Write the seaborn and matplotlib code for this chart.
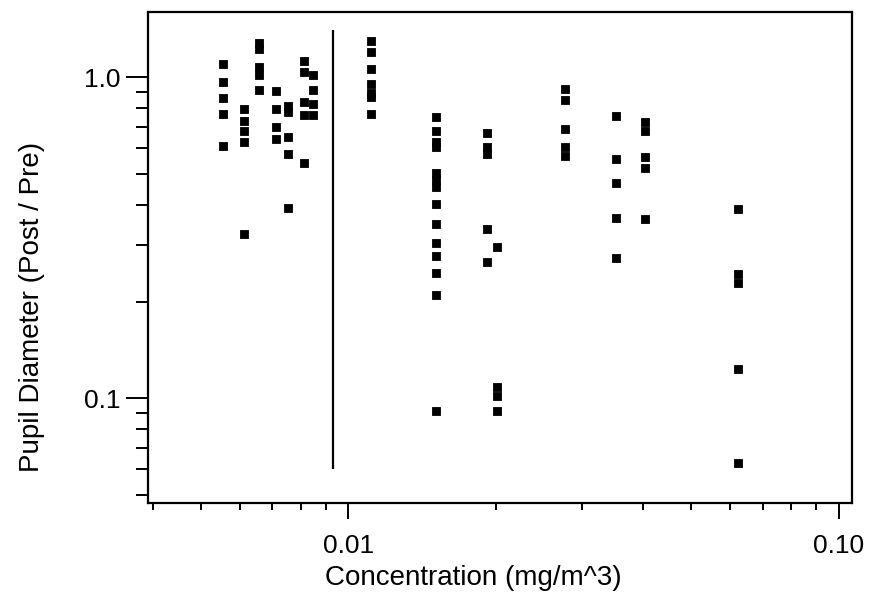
import matplotlib
matplotlib.use("Agg")
import matplotlib.pyplot as plt
import matplotlib.ticker as mtick
import pandas as pd
import seaborn as sns

# concentration groups (mg/m^3) and pupil diameter ratios
conc = (
    [0.00555] * 5
    + [0.00613] * 5
    + [0.00658] * 5
    + [0.00712] * 4
    + [0.00754] * 5
    + [0.00813] * 5
    + [0.00848] * 4
    + [0.01114] * 7
    + [0.01507] * 14
    + [0.01914] * 5
    + [0.0201] * 4
    + [0.02767] * 5
    + [0.03515] * 5
    + [0.0403] * 5
    + [0.0624] * 5
)
ratio = [
    1.098, 0.965, 0.860, 0.767, 0.610,
    0.795, 0.729, 0.679, 0.627, 0.324,
    1.276, 1.222, 1.074, 1.014, 0.911,
    0.905, 0.795, 0.699, 0.641,
    0.812, 0.778, 0.650, 0.575, 0.391,
    1.122, 1.036, 0.836, 0.761, 0.540,
    1.014, 0.911, 0.824, 0.761,
    1.295, 1.196, 1.059, 0.951, 0.892, 0.866, 0.767,
    0.750, 0.679, 0.627, 0.605, 0.502, 0.478, 0.454, 0.402, 0.348,
    0.304, 0.277, 0.245, 0.209, 0.0911,
    0.669, 0.605, 0.575, 0.336, 0.265,
    0.295, 0.1082, 0.1014, 0.0911,
    0.918, 0.848, 0.689, 0.605, 0.567,
    0.756, 0.555, 0.468, 0.364, 0.273,
    0.724, 0.679, 0.563, 0.521, 0.361,
    0.388, 0.243, 0.228, 0.123, 0.0627,
]

# reference line drawn on the chart
ref_x = 0.0093
ref_y = (0.06, 1.4)

df = pd.DataFrame({"conc": conc, "ratio": ratio})

sns.set_style("ticks")
plt.rcParams["font.family"] = ["Liberation Sans", "DejaVu Sans"]
for key in ["text.color", "axes.labelcolor", "xtick.color", "ytick.color", "axes.edgecolor"]:
    plt.rcParams[key] = "black"

fig = plt.figure(figsize=(8.7, 6.07), dpi=100)
ax = fig.add_axes([0.170, 0.171, 0.809, 0.809])

sns.scatterplot(data=df, x="conc", y="ratio", ax=ax, marker="s", s=36,
                color="black", edgecolor="black", linewidth=0.6, legend=False)
ax.vlines(ref_x, ref_y[0], ref_y[1], color="black", linewidth=1.6)

ax.set_xscale("log")
ax.set_yscale("log")
ax.set_xlim(0.0039, 0.1064)
ax.set_ylim(0.0471, 1.594)

ax.xaxis.set_major_locator(mtick.FixedLocator([0.01, 0.1]))
ax.xaxis.set_major_formatter(mtick.FixedFormatter(["0.01", "0.10"]))
ax.xaxis.set_minor_locator(mtick.LogLocator(base=10, subs=range(2, 10)))
ax.xaxis.set_minor_formatter(mtick.NullFormatter())
ax.yaxis.set_major_locator(mtick.FixedLocator([0.1, 1.0]))
ax.yaxis.set_major_formatter(mtick.FixedFormatter(["0.1", "1.0"]))
ax.yaxis.set_minor_locator(mtick.LogLocator(base=10, subs=range(2, 10)))
ax.yaxis.set_minor_formatter(mtick.NullFormatter())

ax.tick_params(axis="x", which="major", length=11.5, width=1.4, labelsize=19, pad=11)
ax.tick_params(axis="x", which="minor", length=5, width=1.4)
ax.tick_params(axis="y", which="major", length=16, width=1.4, labelsize=19, pad=4)
ax.tick_params(axis="y", which="minor", length=8.5, width=1.4)

for side in ax.spines.values():
    side.set_linewidth(1.6)

ax.set_xlabel("Concentration (mg/m^3)", fontsize=20)
ax.set_ylabel("Pupil Diameter (Post / Pre)", fontsize=20)
ax.xaxis.set_label_coords(0.462, -0.126)
ax.yaxis.set_label_coords(-0.146, 0.40)

fig.savefig("out.png", dpi=100)
